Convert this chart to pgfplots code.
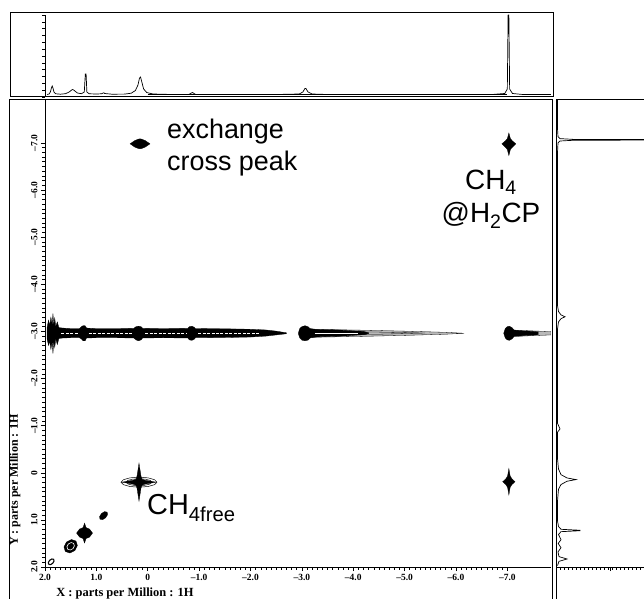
\documentclass[border=0pt]{standalone}
\usepackage{fontspec}
\setmainfont{Liberation Sans}
\newfontfamily\tmsb{Liberation Serif}[Ligatures=TeX]
\usepackage{pgfplots}
\pgfplotsset{compat=1.18}
\begin{document}
\begin{tikzpicture}
\useasboundingbox (0bp,0bp) rectangle (644bp,599bp);
% ---------- main 2D spectrum ----------
\begin{axis}[
  at={(45bp,32bp)}, anchor=south west,
  scale only axis, width=506bp, height=467bp,
  x dir=reverse, y dir=reverse,
  xmin=-7.85, xmax=2.0, ymin=-7.91, ymax=2.0,
  axis lines*=left,
  axis line style={line width=0.8pt},
  xtick={-7,-6,-5,-4,-3,-2,-1,0,1,2},
  xticklabels={–7.0,–6.0,–5.0,–4.0,–3.0,–2.0,–1.0,0,1.0,2.0},
  ytick={-7,-6,-5,-4,-3,-2,-1,0,1,2},
  yticklabels={–7.0,–6.0,–5.0,–4.0,–3.0,–2.0,–1.0,0,1.0,2.0},
  minor tick num=9,
  tick align=outside,
  major tick length=4bp, minor tick length=2.5bp,
  tick style={black, line width=0.5pt},
  ticklabel style={font=\tmsb\bfseries\fontsize{9.5}{9.5}\selectfont},
  yticklabel style={rotate=90, anchor=south},
  clip=true,
]
% ridge (t1 streak) gray tails
\addplot[fill=gray!55, draw=black, line width=0.3pt] coordinates {(-3.2,-3.045)(-4.2,-3.025)(-5.0,-3.005)(-5.8,-2.98)(-6.16,-2.96)(-5.8,-2.94)(-5.0,-2.915)(-4.2,-2.895)(-3.2,-2.875)(-3.2,-3.045)};
\addplot[black, line width=0.3pt] coordinates {(-3.3,-3.0)(-4.5,-2.985)(-5.4,-2.965)(-4.5,-2.94)(-3.3,-2.925)};
\addplot[fill=gray!55, draw=black, line width=0.3pt] coordinates {(-7.2,-3.025)(-7.5,-3.01)(-7.85,-2.995)(-7.85,-2.925)(-7.5,-2.91)(-7.2,-2.895)(-7.2,-3.025)};
% ridge section 1
\addplot[fill=black, draw=black, line width=0.3pt] coordinates {
(1.96,-3.08)(1.93,-3.24)(1.91,-3.12)(1.885,-3.30)(1.86,-3.14)(1.845,-3.38)(1.83,-3.12)(1.81,-3.28)(1.79,-3.10)(1.76,-3.20)(1.73,-3.08)(1.65,-3.07)(1.5,-3.06)(1.33,-3.06)(1.29,-3.10)(1.26,-3.12)(1.22,-3.12)(1.19,-3.07)(1.0,-3.06)(0.6,-3.06)(0.27,-3.065)(0.23,-3.10)(0.18,-3.11)(0.13,-3.10)(0.10,-3.065)(-0.3,-3.06)(-0.78,-3.065)(-0.81,-3.10)(-0.86,-3.11)(-0.90,-3.09)(-0.93,-3.06)(-1.5,-3.055)(-2.0,-3.045)(-2.3,-3.03)(-2.5,-3.005)(-2.7,-2.97)
(-2.7,-2.95)(-2.5,-2.925)(-2.3,-2.90)(-2.0,-2.88)(-1.5,-2.87)(-0.93,-2.865)(-0.90,-2.83)(-0.86,-2.81)(-0.81,-2.82)(-0.78,-2.86)(-0.3,-2.865)(0.10,-2.86)(0.13,-2.82)(0.18,-2.80)(0.23,-2.82)(0.27,-2.86)(0.6,-2.865)(1.0,-2.865)(1.19,-2.86)(1.22,-2.80)(1.26,-2.80)(1.29,-2.84)(1.33,-2.865)(1.5,-2.865)(1.65,-2.86)(1.73,-2.85)(1.76,-2.72)(1.79,-2.84)(1.81,-2.66)(1.83,-2.80)(1.845,-2.53)(1.86,-2.78)(1.885,-2.62)(1.91,-2.80)(1.93,-2.70)(1.96,-2.84)(1.96,-3.08)};
% ridge section 2
\addplot[fill=black, draw=black, line width=0.3pt] coordinates {
(-2.93,-2.96)(-2.96,-3.06)(-3.0,-3.10)(-3.06,-3.12)(-3.12,-3.10)(-3.16,-3.06)(-3.3,-3.04)(-3.7,-3.03)(-4.2,-3.0)(-4.3,-2.97)
(-4.3,-2.955)(-4.2,-2.93)(-3.7,-2.895)(-3.3,-2.885)(-3.16,-2.86)(-3.12,-2.815)(-3.06,-2.80)(-3.0,-2.815)(-2.96,-2.86)(-2.93,-2.96)};
% ridge section 3
\addplot[fill=black, draw=black, line width=0.3pt] coordinates {
(-6.93,-2.96)(-6.96,-3.06)(-7.0,-3.10)(-7.04,-3.11)(-7.09,-3.08)(-7.13,-3.03)(-7.3,-3.01)(-7.5,-3.0)(-7.6,-2.99)
(-7.6,-2.93)(-7.5,-2.92)(-7.3,-2.91)(-7.13,-2.89)(-7.09,-2.84)(-7.04,-2.81)(-7.0,-2.82)(-6.96,-2.86)(-6.93,-2.96)};
% white contour gaps inside the ridge
\addplot[white, line width=0.5pt, dash pattern=on 3pt off 1.5pt] coordinates {(1.68,-2.96)(1.36,-2.96)};
\addplot[white, line width=0.5pt, dash pattern=on 3pt off 1.5pt] coordinates {(1.15,-2.96)(0.30,-2.96)};
\addplot[white, line width=0.5pt, dash pattern=on 3pt off 1.5pt] coordinates {(0.05,-2.96)(-0.74,-2.96)};
\addplot[white, line width=0.5pt, dash pattern=on 3pt off 1.5pt] coordinates {(-0.98,-2.96)(-2.2,-2.96)};
\addplot[white, line width=0.4pt] coordinates {(-3.25,-2.96)(-4.1,-2.96)};
% CH4 free diagonal peak (star)
\addplot[draw=black, line width=0.5pt] coordinates {(-0.18,0.20)(-0.133,0.253)(-0.005,0.292)(0.17,0.306)(0.345,0.292)(0.473,0.253)(0.52,0.20)(0.473,0.147)(0.345,0.108)(0.17,0.094)(-0.005,0.108)(-0.133,0.147)(-0.18,0.20)};
\addplot[draw=black, line width=0.5pt] coordinates {(-0.082,0.20)(-0.048,0.237)(0.044,0.264)(0.17,0.274)(0.296,0.264)(0.388,0.237)(0.422,0.20)(0.388,0.163)(0.296,0.136)(0.17,0.126)(0.044,0.136)(-0.048,0.163)(-0.082,0.20)};
\addplot[fill=black, draw=black, line width=0.3pt] coordinates {(-0.16,0.20)(0.054,0.242)(0.112,0.263)(0.131,0.327)(0.17,0.60)(0.209,0.327)(0.228,0.263)(0.286,0.242)(0.50,0.20)(0.286,0.158)(0.228,0.137)(0.209,0.073)(0.17,-0.20)(0.131,0.073)(0.112,0.137)(0.054,0.158)(-0.16,0.20)};
% exchange cross peak (0.15,-6.98)
\addplot[fill=black, draw=black, line width=0.3pt] coordinates {(-0.044,-6.98)(0.05,-7.05)(0.12,-7.08)(0.15,-7.086)(0.18,-7.08)(0.25,-7.05)(0.344,-6.98)(0.25,-6.91)(0.18,-6.88)(0.15,-6.874)(0.12,-6.88)(0.05,-6.91)(-0.044,-6.98)};
% CH4@H2CP diagonal peak
\addplot[fill=black, draw=black, line width=0.3pt] coordinates {(-7.166,-6.98)(-7.10,-7.04)(-7.06,-7.09)(-7.03,-7.21)(-7.00,-7.09)(-6.96,-7.04)(-6.894,-6.98)(-6.96,-6.91)(-7.00,-6.86)(-7.03,-6.73)(-7.06,-6.86)(-7.10,-6.91)(-7.166,-6.98)};
% cross peak (-7.03, 0.19)
\addplot[fill=black, draw=black, line width=0.3pt] coordinates {(-7.15,0.19)(-7.09,0.13)(-7.055,0.07)(-7.03,-0.09)(-7.005,0.07)(-6.97,0.13)(-6.91,0.19)(-6.97,0.25)(-7.005,0.31)(-7.03,0.47)(-7.055,0.31)(-7.09,0.25)(-7.15,0.19)};
% small diagonal peaks
\addplot[fill=black, draw=black, line width=0.3pt] coordinates {(0.929,0.985)(0.879,0.995)(0.819,0.955)(0.782,0.889)(0.791,0.835)(0.841,0.825)(0.901,0.865)(0.938,0.931)(0.929,0.985)};
\addplot[fill=black, draw=black, line width=0.3pt] coordinates {(1.075,1.28)(1.133,1.195)(1.201,1.164)(1.23,1.069)(1.259,1.164)(1.327,1.195)(1.385,1.28)(1.327,1.365)(1.259,1.396)(1.23,1.491)(1.201,1.396)(1.133,1.365)(1.075,1.28)};
\addplot[fill=black, draw=black, line width=0.3pt] coordinates {(1.603,1.672)(1.515,1.703)(1.418,1.65)(1.369,1.544)(1.397,1.448)(1.485,1.417)(1.582,1.47)(1.631,1.576)(1.603,1.672)};
\addplot[white, line width=0.6pt] coordinates {(1.557,1.622)(1.508,1.639)(1.455,1.61)(1.428,1.551)(1.443,1.498)(1.492,1.481)(1.545,1.51)(1.572,1.569)(1.557,1.622)};
\addplot[black, line width=1.1pt] coordinates {(1.928,1.943)(1.893,1.95)(1.851,1.922)(1.825,1.875)(1.832,1.837)(1.867,1.83)(1.909,1.858)(1.935,1.905)(1.928,1.943)};
\end{axis}
% ---------- top 1D spectrum ----------
\begin{axis}[
  at={(45bp,502bp)}, anchor=south west,
  scale only axis, width=506bp, height=84bp,
  x dir=reverse, xmin=-7.85, xmax=2.0, ymin=-2, ymax=82,
  hide axis, clip=true,
]
\addplot[black, line width=1.4pt] coordinates {(0.0,0.6)(-7.0,0.6)};
\addplot[black, line width=0.7pt] coordinates {
(1.96,0.5)(1.92,1)(1.895,3)(1.875,7)(1.86,9)(1.845,7)(1.825,3)(1.79,1.2)(1.70,0.8)(1.60,1.3)(1.53,3)(1.48,5)(1.46,5.5)(1.43,4.5)(1.37,2)(1.29,1.3)(1.235,3)(1.215,21)(1.20,21)(1.185,3)(1.14,1.2)(1.0,1)(0.9,1.2)(0.87,2)(0.855,2.2)(0.84,1.5)(0.7,0.8)(0.45,0.9)(0.32,1.8)(0.24,4.5)(0.19,10)(0.16,17)(0.14,18)(0.12,14)(0.08,6)(0.02,2.5)(-0.1,1)(-0.4,0.6)(-0.8,0.6)(-0.87,2.5)(-0.93,0.6)(-1.5,0.5)(-2.5,0.5)(-2.95,1)(-3.02,3)(-3.06,6.5)(-3.08,6.5)(-3.12,3)(-3.2,1)(-3.5,0.5)(-5,0.5)(-6.7,0.5)(-6.95,1.5)(-7.0,6)(-7.015,80)(-7.03,80)(-7.045,6)(-7.1,1.5)(-7.3,0.5)(-7.85,0.4)};
\end{axis}
% tick line of the top panel
\begin{axis}[
  at={(45bp,502bp)}, anchor=south west,
  scale only axis, width=1bp, height=82bp,
  xmin=0, xmax=1, ymin=0, ymax=12,
  axis y line*=left, axis x line=none,
  axis line style={line width=0.8pt},
  ytick={0,1,...,12}, yticklabels={}, xtick=\empty,
  tick align=outside, major tick length=2.5bp,
  tick style={black, line width=0.5pt},
]
\end{axis}
% ---------- right 1D projection ----------
\begin{axis}[
  at={(556bp,32bp)}, anchor=south west,
  scale only axis, width=88bp, height=467bp,
  y dir=reverse, xmin=-1, xmax=87, ymin=-7.91, ymax=2.0,
  axis x line*=bottom, axis y line=none,
  axis line style={line width=0.8pt},
  xtick={53}, xticklabels={}, minor xtick={3,7,...,87}, ytick=\empty,
  tick align=outside, major tick length=4bp, minor tick length=2.5bp,
  tick style={black, line width=0.5pt},
  clip=true,
]
\addplot[black, line width=0.7pt] coordinates {
(0.5,-7.91)(0.5,-7.3)(1,-7.13)(3,-7.09)(16,-7.075)(95,-7.07)(95,-7.06)(16,-7.055)(3,-7.04)(1,-7.0)(0.5,-6.8)(0.5,-3.55)(1.5,-3.42)(4,-3.35)(8,-3.31)(4,-3.27)(1.5,-3.2)(0.5,-3.05)(0.5,-1.05)(3,-0.93)(0.5,-0.86)(0.5,-0.3)(1.5,-0.08)(4,0.04)(10,0.11)(19,0.145)(10,0.18)(4,0.25)(1.5,0.35)(0.5,0.6)(0.5,1.02)(1.5,1.14)(4,1.2)(23,1.22)(23,1.23)(4,1.25)(1.5,1.31)(4,1.42)(1.2,1.50)(4,1.59)(1,1.68)(2,1.78)(10,1.83)(2,1.88)(0.5,1.97)};
\end{axis}
% ---------- frames ----------
\draw[line width=1pt] (10bp,502bp) rectangle (553bp,586bp);
\draw[line width=1pt] (9bp,-5bp) -- (9bp,499bp) -- (552bp,499bp) -- (552bp,-5bp);
\draw[line width=1pt] (556bp,-5bp) -- (556bp,499bp) -- (650bp,499bp);
% ---------- labels ----------
\node[rotate=90, font=\tmsb\bfseries\fontsize{12}{12}\selectfont] at (15bp,119bp) {Y : parts per Million : 1H};
\node[font=\tmsb\bfseries\fontsize{12.5}{12.5}\selectfont] at (125bp,5bp) {X : parts per Million : 1H};
\node[anchor=base west, inner sep=0pt, font=\fontsize{27}{32}\selectfont] at (167bp,460bp) {exchange};
\node[anchor=base west, inner sep=0pt, font=\fontsize{27}{32}\selectfont] at (167bp,428bp) {cross peak};
\node[anchor=base, inner sep=0pt, font=\fontsize{28}{32}\selectfont] at (491bp,409bp) {CH\textsubscript{4}};
\node[anchor=base, inner sep=0pt, font=\fontsize{28}{32}\selectfont] at (491bp,376bp) {@H\textsubscript{2}CP};
\node[anchor=base west, inner sep=0pt, font=\fontsize{29}{32}\selectfont] at (147bp,84bp) {CH\textsubscript{4free}};
\end{tikzpicture}
\end{document}
